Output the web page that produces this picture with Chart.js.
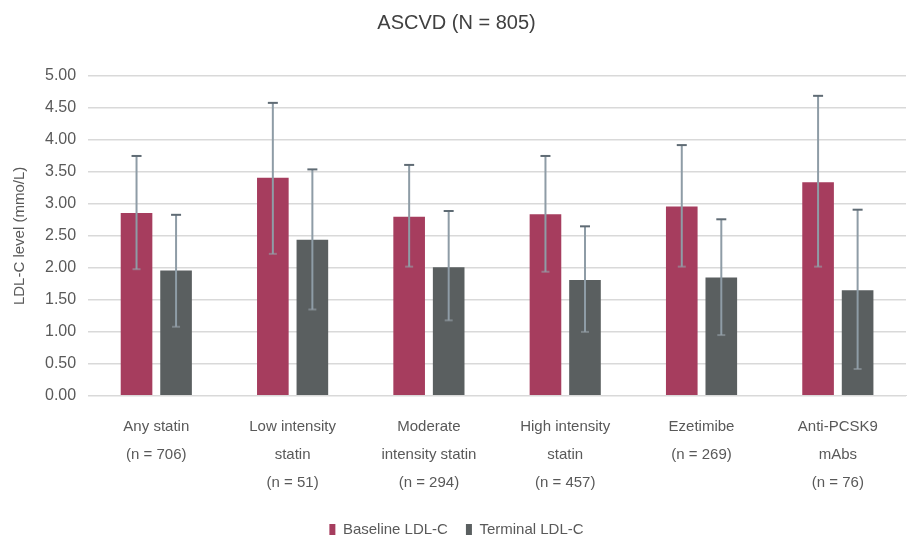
<!DOCTYPE html>
<html>
<head>
<meta charset="utf-8">
<script src="https://cdn.jsdelivr.net/npm/chart.js@4"></script>
<style>
  html, body { margin: 0; padding: 0; background: #fff; }
  #wrap { width: 916px; height: 543px; }
</style>
</head>
<body>
<div id="wrap"><canvas id="myChart"></canvas></div>
<script>
const categories = [
  ["Any statin", "(n = 706)"],
  ["Low intensity", "statin", "(n = 51)"],
  ["Moderate", "intensity statin", "(n = 294)"],
  ["High intensity", "statin", "(n = 457)"],
  ["Ezetimibe", "(n = 269)"],
  ["Anti-PCSK9", "mAbs", "(n = 76)"],
];
const baseline = [2.86, 3.41, 2.80, 2.84, 2.96, 3.34];
const baselineHigh = [3.75, 4.58, 3.61, 3.75, 3.92, 4.69];
const baselineLow = [1.98, 2.22, 2.02, 1.94, 2.02, 2.02];
const terminal = [1.96, 2.44, 2.01, 1.81, 1.85, 1.65];
const terminalHigh = [2.83, 3.54, 2.89, 2.65, 2.76, 2.91];
const terminalLow = [1.08, 1.35, 1.18, 1.00, 0.95, 0.42];
const yTicks = [0, 0.5, 1, 1.5, 2, 2.5, 3, 3.5, 4, 4.5, 5];

const errs = [
  { hi: baselineHigh, lo: baselineLow },
  { hi: terminalHigh, lo: terminalLow },
];

const FONT = "'Liberation Sans Narrow', 'Liberation Sans', Arial, sans-serif";

const errorBars = {
  id: "errorBars",
  afterDatasetsDraw(chart) {
    const ctx = chart.ctx;
    const y = chart.scales.y;
    chart.data.datasets.forEach((ds, di) => {
      const meta = chart.getDatasetMeta(di);
      meta.data.forEach((bar, i) => {
        const top = y.getPixelForValue(errs[di].hi[i]);
        const bot = y.getPixelForValue(errs[di].lo[i]);
        ctx.save();
        ctx.strokeStyle = "#8e9ca6";
        ctx.lineWidth = 2;
        ctx.beginPath();
        ctx.moveTo(bar.x, top);
        ctx.lineTo(bar.x, bot);
        ctx.stroke();
        ctx.strokeStyle = "#5f6b74";
        ctx.beginPath();
        ctx.moveTo(bar.x - 5, top);
        ctx.lineTo(bar.x + 5, top);
        ctx.stroke();
        ctx.strokeStyle = "rgba(150,160,168,0.6)";
        ctx.beginPath();
        ctx.moveTo(bar.x - 4, bot);
        ctx.lineTo(bar.x + 4, bot);
        ctx.stroke();
        ctx.restore();
      });
    });
  },
};

const ctx = document.getElementById("myChart");
new Chart(ctx, {
  type: "bar",
  data: {
    labels: categories,
    datasets: [
      {
        label: "Baseline LDL-C",
        data: baseline,
        backgroundColor: "#a63d5e",
        categoryPercentage: 0.58,
        barPercentage: 0.8,
      },
      {
        label: "Terminal LDL-C",
        data: terminal,
        backgroundColor: "#5a5f60",
        categoryPercentage: 0.58,
        barPercentage: 0.8,
      },
    ],
  },
  options: {
    responsive: true,
    maintainAspectRatio: false,
    animation: false,
    layout: { padding: { left: 7, right: 10, top: 7, bottom: -4 } },
    plugins: {
      title: {
        display: true,
        text: "ASCVD (N = 805)",
        color: "#404040",
        font: { family: FONT, size: 20, weight: "normal" },
        padding: { top: 4, bottom: 41 },
      },
      legend: {
        position: "bottom",
        labels: {
          color: "#595959",
          font: { family: FONT, size: 15 },
          boxWidth: 6,
          boxHeight: 11,
          padding: 18,
        },
      },
      tooltip: { enabled: false },
    },
    scales: {
      x: {
        grid: { display: false },
        border: { color: "#d9d9d9" },
        afterFit(scale) {
          scale.height -= 2;
        },
        ticks: {
          color: "#595959",
          font: { family: FONT, size: 15, lineHeight: 1.87 },
          maxRotation: 0,
          autoSkip: false,
          padding: 9,
        },
      },
      y: {
        min: 0,
        max: 5,
        afterBuildTicks(axis) {
          axis.ticks = yTicks.map((v) => ({ value: v }));
        },
        grid: { color: "#d9d9d9", lineWidth: 1.5, drawTicks: false },
        border: { display: false },
        ticks: {
          color: "#595959",
          font: { family: FONT, size: 16 },
          padding: 12,
          callback: (v) => Number(v).toFixed(2),
        },
        title: {
          display: true,
          text: "LDL-C level (mmo/L)",
          color: "#595959",
          font: { family: FONT, size: 15 },
          padding: { bottom: 4 },
        },
      },
    },
  },
  plugins: [errorBars],
});
</script>
</body>
</html>
